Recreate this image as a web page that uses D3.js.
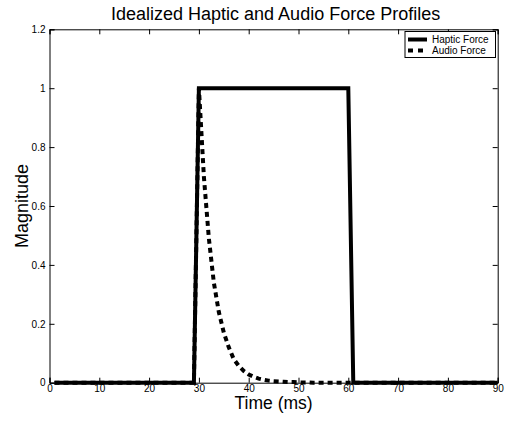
<!DOCTYPE html>
<html><head><meta charset="utf-8">
<script src="https://cdn.jsdelivr.net/npm/d3@7"></script>
<style>body{margin:0;background:#fff}svg{display:block}text{font-family:"Liberation Sans",Arial,sans-serif;fill:#000}</style>
</head><body>
<script>
const time = d3.range(1, 91);
const hapticForce = time.map(t => (t >= 30 && t <= 60) ? 1 : 0);
const audioDecay = [1, 0.70, 0.49, 0.34, 0.24, 0.17, 0.12, 0.08, 0.057, 0.04, 0.028, 0.02, 0.014, 0.01, 0.007, 0.005, 0.004, 0.003, 0.002, 0.002, 0.001, 0.001, 0.001, 0, 0, 0, 0, 0, 0, 0, 0];
const audioForce = time.map(t => (t >= 30 && t <= 60) ? audioDecay[t - 30] : 0);
const xTicks = [0, 10, 20, 30, 40, 50, 60, 70, 80, 90];
const yTicks = [0, 0.2, 0.4, 0.6, 0.8, 1, 1.2];
const seriesNames = ["Haptic Force", "Audio Force"];

const W = 505, H = 421;
const L = 49.5, R = 497.7, T = 29.3, B = 382.7;
const svg = d3.select("body").append("svg").attr("width", W).attr("height", H);
const x = d3.scaleLinear().domain([0, 90]).range([L, R]);
const y = d3.scaleLinear().domain([0, 1.2]).range([B, T]);

const fmt = d => d3.format("")(d);
const tl = 5;
const gB = svg.append("g").attr("transform", `translate(0,${B})`)
  .call(d3.axisBottom(x).tickValues(xTicks).tickSize(-tl).tickPadding(2).tickFormat(fmt));
const gT = svg.append("g").attr("transform", `translate(0,${T})`)
  .call(d3.axisTop(x).tickValues(xTicks).tickSize(-tl).tickFormat(""));
const gL = svg.append("g").attr("transform", `translate(${L},0)`)
  .call(d3.axisLeft(y).tickValues(yTicks).tickSize(-tl).tickPadding(4).tickFormat(fmt));
const gR = svg.append("g").attr("transform", `translate(${R},0)`)
  .call(d3.axisRight(y).tickValues(yTicks).tickSize(-tl).tickFormat(""));
[gB, gT, gL, gR].forEach(g => {
  g.selectAll("path.domain").attr("stroke", "#000").attr("stroke-width", 1);
  g.selectAll("line").attr("stroke", "#000");
  g.selectAll("text").style("font-size", "10px").attr("fill", "#000");
});

const line = d3.line().x((d, i) => x(time[i])).y(d => y(d));
svg.append("path").datum(hapticForce).attr("d", line)
  .attr("fill", "none").attr("stroke", "#000").attr("stroke-width", 4).attr("stroke-linejoin", "miter");
svg.append("path").datum(audioForce).attr("d", line)
  .attr("fill", "none").attr("stroke", "#000").attr("stroke-width", 4).attr("stroke-dasharray", "5,4");

svg.append("text").attr("x", (L + R) / 2 + 2).attr("y", 20).attr("text-anchor", "middle")
  .style("font-size", "18px").text("Idealized Haptic and Audio Force Profiles");
svg.append("text").attr("x", (L + R) / 2).attr("y", 409).attr("text-anchor", "middle")
  .style("font-size", "17.5px").text("Time (ms)");
svg.append("text").attr("transform", `translate(28,${(T + B) / 2}) rotate(-90)`).attr("text-anchor", "middle")
  .style("font-size", "18px").text("Magnitude");

// legend
const lg = svg.append("g");
lg.append("rect").attr("x", 405).attr("y", 31.5).attr("width", 90.5).attr("height", 26)
  .attr("fill", "#fff").attr("stroke", "#000").attr("stroke-width", 1);
seriesNames.forEach((n, i) => {
  const yy = 39.5 + i * 11;
  lg.append("line").attr("x1", 408).attr("x2", 427).attr("y1", yy).attr("y2", yy)
    .attr("stroke", "#000").attr("stroke-width", 4).attr("stroke-dasharray", i ? "5,5" : null);
  lg.append("text").attr("x", 432).attr("y", yy + 3.5).style("font-size", "10px").text(n);
});
</script>
</body></html>
